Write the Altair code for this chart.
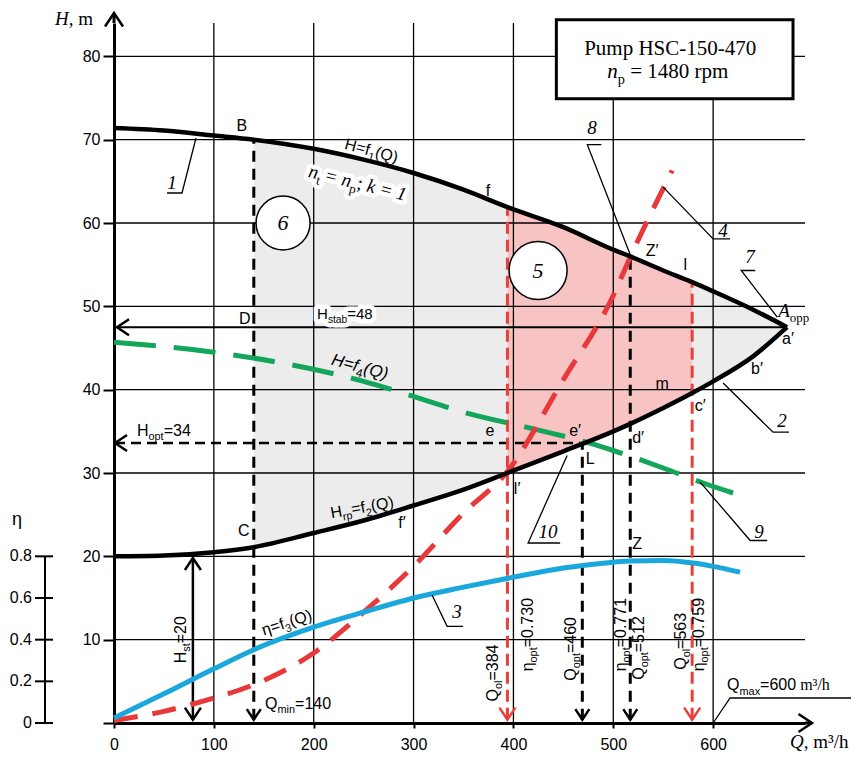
import altair as alt
import pandas as pd

# ------------------------------------------------------------------ data
Q_GRID = [0, 50, 100, 140, 200, 250, 300, 350, 394, 450, 500, 517, 550, 579, 600, 640, 674]
H_PUMP = [71.4, 71.1, 70.5, 70.0, 68.9, 67.6, 66.0, 64.0, 61.9, 59.5, 56.8, 56.0, 54.3, 52.9, 51.8, 49.6, 47.5]   # 1: H=f1(Q)
H_NET = [20.0, 20.1, 20.5, 21.1, 22.8, 24.3, 26.1, 28.0, 30.0, 32.6, 35.0, 35.9, 37.8, 39.6, 41.0, 44.0, 47.5]    # 2: Hrp=f2(Q)

ETA_Q = [0, 50, 100, 140, 200, 250, 300, 350, 400, 450, 500, 517, 550, 580, 600, 627]
ETA = [0.024, 0.14, 0.26, 0.352, 0.46, 0.532, 0.60, 0.652, 0.70, 0.744, 0.772, 0.778, 0.78, 0.768, 0.752, 0.724]  # 3
ETA_TO_H = 25.0        # eta scale: 0.8 <-> 20 m
ETA_TICKS = [0, 0.2, 0.4, 0.6, 0.8]
ETA_TICK_LABELS = ["0", "0.2", "0.4", "0.6", "0.8"]

CURVE4_Q = [0, 50, 100, 140, 200, 250, 300, 350, 394, 450, 500, 517, 559]
CURVE4_H = [0.3, 1.4, 3.0, 4.6, 8.4, 13.3, 18.8, 25.2, 30.2, 41.2, 51.3, 55.9, 66.3]

F4_Q = [0, 100, 168, 250, 300, 350, 420, 473, 500, 550, 590, 620]
F4_H = [45.7, 44.5, 43.2, 41.0, 39.2, 37.3, 35.3, 33.7, 32.7, 30.6, 28.8, 27.6]

X_TICKS = [0, 100, 200, 300, 400, 500, 600]
Y_TICKS = [0, 10, 20, 30, 40, 50, 60, 70, 80]
GRID_Q = [100, 200, 300, 400, 500, 600]
GRID_H = [10, 20, 30, 40, 50, 60, 70, 80]
Q_END, H_END = 692, 84

# shaded zones between curves 1 and 2: (from Q, to Q, colour)
ZONES = [(140, 394, "#ececec"), (394, 579, "#f7c3c3"), (579, 674, "#ececec")]

H_STAB = 47.5
H_OPT = 33.6
# vertical dashed drop lines (Q, top H, colour)
DROPS = [(140, 70.0, "black"), (469, 33.6, "black"), (517, 56.0, "black"),
         (394, 61.9, "#e8403a"), (579, 52.9, "#e8403a")]
H_ST_Q = 79
DROP_END = 0.4

# chevrons: Q, H, direction (deg), half width px, colour
ARROWS = [(0, 85.2, 0, 9, "black"), (699, 0, 90, 9, "black"),
          (3, H_STAB, 270, 8, "black"), (1, H_OPT, 270, 8, "black"),
          (140, DROP_END, 180, 7, "black"), (469, DROP_END, 180, 7, "black"),
          (517, DROP_END, 180, 7, "black"), (394, DROP_END, 180, 8, "#e8403a"),
          (579, DROP_END, 180, 8, "#e8403a"), (H_ST_Q, 19.8, 0, 8, "black"),
          (H_ST_Q, DROP_END, 180, 8, "black")]

LEADERS = {
    "1": [(53.1, 63.6), (68.1, 63.6), (82.1, 70.2)],
    "2": [(610, 40.8), (660, 34.9), (676, 34.9)],
    "3": [(318.5, 15.35), (333.6, 11.6), (349.6, 11.6)],
    "4": [(550, 64.3), (600, 58.1), (617, 58.1)],
    "7": [(642.1, 54.3), (628.1, 54.3), (664.2, 48.7)],
    "8": [(488, 69.4), (474, 69.4), (517, 56.2)],
    "9": [(587, 28.9), (637.1, 21.9), (654.1, 21.9)],
    "10": [(453.8, 32.1), (414.7, 21.6), (446.8, 21.6)],
    "qmax": [(600, 0), (617, 3.0), (739, 3.0)],
}
NUMBERS = [("1", 58.1, 64.8), ("2", 669, 36.3), ("3", 343.6, 13.3), ("4", 610, 59.1),
           ("7", 637, 55.9), ("8", 478.8, 71.4), ("9", 646, 22.9), ("10", 434.7, 22.9)]
CIRCLES = [("5", 424.7, 54.3, 58), ("6", 169.3, 60.0, 54)]
BOX = (443, 680, 74.9, 84.4)

# text labels: Q, H, angle, anchor, base size, halo, parts
LABELS = [
    (128, 71.7, 0, "center", 16, False, [("B", "n")]),
    (374.6, 63.9, 0, "center", 16, False, [("f", "n")]),
    (131, 48.6, 0, "center", 16, False, [("D", "n")]),
    (130, 23.1, 0, "center", 16, False, [("C", "n")]),
    (376.6, 35.1, 0, "center", 16, False, [("e", "n")]),
    (461.8, 35.1, 0, "center", 16, False, [("e′", "n")]),
    (476.8, 31.8, 0, "center", 16, False, [("L", "n")]),
    (403.7, 28.2, 0, "center", 16, False, [("l′", "n")]),
    (288.5, 24.1, 0, "center", 16, False, [("f′", "n")]),
    (524.9, 34.3, 0, "center", 16, False, [("d′", "n")]),
    (549, 40.8, 0, "center", 16, False, [("m", "n")]),
    (587, 38.1, 0, "center", 16, False, [("c′", "n")]),
    (644, 42.6, 0, "center", 16, False, [("b′", "n")]),
    (675, 46.2, 0, "center", 16, False, [("a′", "n")]),
    (539, 56.7, 0, "center", 16, False, [("Z′", "n")]),
    (524, 21.6, 0, "center", 16, False, [("Z", "n")]),
    (572, 55.0, 0, "center", 16, False, [("l", "n")]),
    (258, 68.7, 15, "center", 16, False, [("H=f", "n"), ("1", "s"), ("(Q)", "n")]),
    (243.4, 64.9, 14, "center", 19, True, [("n", "i"), ("t", "rs"), (" = ", "r"), ("n", "i"), ("p", "rs"),
                                           ("; ", "r"), ("k", "i"), (" = 1", "i")]),
    (246.4, 42.8, 15, "center", 17, False, [("H=f", "ni"), ("4", "s"), ("(Q)", "ni")]),
    (248.4, 25.9, 350, "center", 16, False, [("H", "n"), ("rp", "s"), ("=f", "n"), ("2", "s"), ("(Q)", "n")]),
    (173, 12.1, 342, "center", 16, False, [("η=f", "n"), ("3", "s"), ("(Q)", "n")]),
    (203.4, 49.1, 0, "left", 15, True, [("H", "n"), ("stab", "s"), ("=48", "n")]),
    (23, 35.1, 0, "left", 16, False, [("H", "n"), ("opt", "s"), ("=34", "n")]),
    (151.3, 2.4, 0, "left", 16, False, [("Q", "n"), ("min", "s"), ("=140", "n")]),
    (614, 4.6, 0, "left", 16, False, [("Q", "n"), ("max", "s"), ("=600", "n"), (" m³/h", "r")]),
    (665.1, 49.5, 0, "left", 19, False, [("A", "i"), ("opp", "rs")]),
    (-59.1, 84.6, 0, "left", 19, False, [("H", "i"), (", m", "r")]),
    (677, -2.2, 0, "left", 19, False, [("Q", "i"), (", m³/h", "r")]),
    (-97.2, 24.5, 0, "center", 18, False, [("η", "n")]),
    (378.6, 6.0, 270, "center", 16, False, [("Q", "n"), ("ol", "s"), ("=384", "n")]),
    (413.7, 10.6, 270, "center", 16, False, [("η", "n"), ("opt", "s"), ("=0.730", "n")]),
    (456.8, 8.9, 270, "center", 16, False, [("Q", "n"), ("opt", "s"), ("=460", "n")]),
    (506.9, 10.6, 270, "center", 16, False, [("η", "n"), ("opt", "s"), ("=0.771", "n")]),
    (524.9, 9.0, 270, "center", 16, False, [("Q", "n"), ("opt", "s"), ("=512", "n")]),
    (567.0, 9.8, 270, "center", 16, False, [("Q", "n"), ("ol", "s"), ("=563", "n")]),
    (585.0, 10.6, 270, "center", 16, False, [("η", "n"), ("opt", "s"), ("=0.759", "n")]),
    (66.1, 10.0, 270, "center", 16, False, [("H", "n"), ("st", "s"), ("=20", "n")]),
    (557, 81.1, 0, "center", 21, False, [("Pump HSC-150-470", "r")]),
    (555, 78.3, 0, "center", 21, False, [("n", "i"), ("p", "rs"), (" = 1480 rpm", "r")]),
]
ETA_AXIS_Q = -69.1

# ------------------------------------------------------------------ styles
SANS = "Liberation Sans"
SERIF = "Liberation Serif"
W_SANS = {'A': .667, 'B': .667, 'C': .722, 'D': .722, 'H': .722, 'L': .556, 'Q': .778, 'Z': .611,
          'a': .556, 'b': .556, 'c': .5, 'd': .556, 'e': .556, 'f': .278, 'h': .556, 'i': .222,
          'k': .5, 'l': .222, 'm': .833, 'n': .556, 'o': .556, 'p': .556, 'r': .333, 's': .5,
          't': .278, 'x': .5, '=': .584, '.': .278, ',': .278, ' ': .278, '(': .333, ')': .333,
          ';': .278, 'η': .556, '′': .19, '/': .278, '³': .333}
W_SERIF = {'P': .556, 'H': .722, 'S': .556, 'C': .667, '-': .333, 'A': .611, 'Q': .722,
           'u': .5, 'm': .778, 'p': .5, 'n': .5, 'r': .333, 'o': .5, 'k': .444, 't': .278, 'h': .5,
           ' ': .25, '=': .6, ',': .25, ';': .278, '/': .278, '³': .3}


def text_w(s, size, font):
    tbl = W_SERIF if font == SERIF else W_SANS
    dflt = 0.5 if font == SERIF else 0.556
    return sum(tbl.get(c, dflt) for c in s) * size


def kind_style(kind, b):
    return {
        "n": (SANS, b, "normal", 0),
        "ni": (SANS, b, "italic", 0),
        "s": (SANS, 0.68 * b, "normal", 0.27 * b),
        "i": (SERIF, b, "italic", 0),
        "r": (SERIF, b, "normal", 0),
        "rs": (SERIF, 0.68 * b, "normal", 0.27 * b),
    }[kind]


XS = alt.Scale(domain=[0, Q_END], nice=False, zero=False)
YS = alt.Scale(domain=[0, H_END], nice=False, zero=False)
XAXIS = alt.Axis(values=X_TICKS, grid=False, domainWidth=3, domainColor="black", tickColor="black",
                 tickWidth=2, tickSize=5, labelFont=SANS, labelFontSize=16, labelColor="black",
                 labelPadding=8, labelFlush=False, labelOverlap=False, title=None)
YAXIS = alt.Axis(values=Y_TICKS, grid=False, domainWidth=3, domainColor="black", tickColor="black",
                 tickWidth=2, tickSize=11, labelFont=SANS, labelFontSize=16, labelColor="black",
                 labelPadding=3, labelFlush=False, labelOverlap=False, title=None,
                 labelExpr="datum.value == 0 ? '' : datum.label")


def X(f="Q"):
    return alt.X(f"{f}:Q", scale=XS, axis=XAXIS)


def Y(f="H"):
    return alt.Y(f"{f}:Q", scale=YS, axis=YAXIS)


layers = []

# shaded zones
curves = pd.DataFrame({"Q": Q_GRID, "up": H_PUMP, "lo": H_NET})
for q0, q1, col in ZONES:
    sub = curves[(curves.Q >= q0) & (curves.Q <= q1)]
    layers.append(alt.Chart(sub).mark_area(color=col, opacity=1, interpolate="monotone")
                  .encode(x=X(), y=Y("up"), y2="lo:Q"))

# grid
layers.append(alt.Chart(pd.DataFrame({"Q": GRID_Q, "a": 0, "b": H_END})).mark_rule(color="black", strokeWidth=1.3)
              .encode(x=X(), y=Y("a"), y2="b:Q"))
layers.append(alt.Chart(pd.DataFrame({"H": GRID_H, "a": 0, "b": Q_END})).mark_rule(color="black", strokeWidth=1.3)
              .encode(y=Y(), x=X("a"), x2="b:Q"))

# H_stab solid line, H_opt dashed line, H_st double arrow
layers.append(alt.Chart(pd.DataFrame({"a": [3], "b": [674], "H": [H_STAB]})).mark_rule(color="black", strokeWidth=2)
              .encode(x=X("a"), x2="b:Q", y=Y()))
layers.append(alt.Chart(pd.DataFrame({"a": [1], "b": [469], "H": [H_OPT]}))
              .mark_rule(color="black", strokeWidth=2.5, strokeDash=[10, 6])
              .encode(x=X("a"), x2="b:Q", y=Y()))
layers.append(alt.Chart(pd.DataFrame({"Q": [H_ST_Q], "a": [DROP_END], "b": [19.8]}))
              .mark_rule(color="black", strokeWidth=2.5).encode(x=X(), y=Y("a"), y2="b:Q"))

# drop lines
for q, top, col in DROPS:
    dash = [11, 7] if col == "black" else [12, 6]
    layers.append(alt.Chart(pd.DataFrame({"Q": [q], "a": [DROP_END], "b": [top]}))
                  .mark_rule(color=col, strokeWidth=3, strokeDash=dash)
                  .encode(x=X(), y=Y("a"), y2="b:Q"))

# curves 9 (green), 4 (red), 3 (blue)
layers.append(alt.Chart(pd.DataFrame({"Q": F4_Q, "H": F4_H}))
              .mark_line(color="#13a65a", strokeWidth=5, strokeDash=[42, 18], interpolate="monotone")
              .encode(x=X(), y=Y()))
layers.append(alt.Chart(pd.DataFrame({"Q": CURVE4_Q, "H": CURVE4_H}))
              .mark_line(color="#e8393a", strokeWidth=5, strokeDash=[24, 15], interpolate="monotone")
              .encode(x=X(), y=Y()))
eta_df = pd.DataFrame({"Q": ETA_Q, "eta": ETA})
eta_df["H"] = eta_df["eta"] * ETA_TO_H
layers.append(alt.Chart(eta_df).mark_line(color="#1aa8dc", strokeWidth=5, interpolate="monotone")
              .encode(x=X(), y=Y()))

# main curves
layers.append(alt.Chart(pd.DataFrame({"Q": Q_GRID, "H": H_PUMP}))
              .mark_line(color="black", strokeWidth=4.5, interpolate="monotone")
              .encode(x=X(), y=Y()))
layers.append(alt.Chart(pd.DataFrame({"Q": Q_GRID, "H": H_NET}))
              .mark_line(color="black", strokeWidth=4.5, interpolate="monotone")
              .encode(x=X(), y=Y()))

# axis extensions
layers.append(alt.Chart(pd.DataFrame({"Q": [0], "a": [H_END], "b": [85.2]})).mark_rule(color="black", strokeWidth=3)
              .encode(x=X(), y=Y("a"), y2="b:Q"))
layers.append(alt.Chart(pd.DataFrame({"H": [0], "a": [Q_END], "b": [699]})).mark_rule(color="black", strokeWidth=3)
              .encode(y=Y(), x=X("a"), x2="b:Q"))

# eta axis
eta_ticks = pd.DataFrame({"eta": ETA_TICKS, "lab": ETA_TICK_LABELS})
eta_ticks["H"] = eta_ticks["eta"] * ETA_TO_H
eta_ticks["a"] = ETA_AXIS_Q - 10
eta_ticks["b"] = ETA_AXIS_Q + 8
eta_ticks["lq"] = ETA_AXIS_Q - 13
layers.append(alt.Chart(pd.DataFrame({"Q": [ETA_AXIS_Q], "a": [0], "b": [max(ETA_TICKS) * ETA_TO_H]}))
              .mark_rule(color="black", strokeWidth=2).encode(x=X(), y=Y("a"), y2="b:Q"))
layers.append(alt.Chart(eta_ticks).mark_rule(color="black", strokeWidth=2)
              .encode(y=Y(), x=X("a"), x2="b:Q"))
layers.append(alt.Chart(eta_ticks).mark_text(align="right", baseline="middle", font=SANS, fontSize=16,
                                             color="black")
              .encode(x=X("lq"), y=Y(), text="lab:N"))

# circles 5, 6
circ = pd.DataFrame([{"lab": c[0], "Q": c[1], "H": c[2], "sz": c[3] ** 2} for c in CIRCLES])
layers.append(alt.Chart(circ).mark_point(shape="circle", filled=True, fill="white", stroke="black",
                                         strokeWidth=1.5, opacity=1)
              .encode(x=X(), y=Y(), size=alt.Size("sz:Q", scale=None, legend=None)))
layers.append(alt.Chart(circ).mark_text(font=SERIF, fontStyle="italic", fontSize=22, color="black",
                                        baseline="middle", align="center")
              .encode(x=X(), y=Y(), text="lab:N"))

# pump box
layers.append(alt.Chart(pd.DataFrame({"a": [BOX[0]], "b": [BOX[1]], "c": [BOX[2]], "d": [BOX[3]]}))
              .mark_rect(fill="white", stroke="black", strokeWidth=3)
              .encode(x=X("a"), x2="b:Q", y=Y("c"), y2="d:Q"))

# leader lines
lead_rows = []
for key, pts in LEADERS.items():
    for i, (q, h) in enumerate(pts):
        lead_rows.append({"id": key, "o": i, "Q": q, "H": h})
layers.append(alt.Chart(pd.DataFrame(lead_rows)).mark_line(color="black", strokeWidth=1.3)
              .encode(x=X(), y=Y(), detail="id:N", order="o:Q"))
num_df = pd.DataFrame([{"lab": n[0], "Q": n[1], "H": n[2]} for n in NUMBERS])
layers.append(alt.Chart(num_df).mark_text(font=SERIF, fontStyle="italic", fontSize=19, color="black",
                                          baseline="middle", align="center")
              .encode(x=X(), y=Y(), text="lab:N"))

# arrow heads
arr = pd.DataFrame([{"Q": a[0], "H": a[1], "ang": a[2], "sz": 4 * a[3] ** 2, "col": a[4]} for a in ARROWS])
layers.append(alt.Chart(arr).mark_point(shape="M-1,1.5L0,0L1,1.5", filled=False, strokeWidth=2.5, opacity=1,
                                        strokeJoin="miter")
              .encode(x=X(), y=Y(), angle=alt.Angle("ang:Q", scale=None),
                      size=alt.Size("sz:Q", scale=None, legend=None),
                      color=alt.Color("col:N", scale=None, legend=None)))

# rich text labels (Vega trims spaces, so leading blanks become offsets)
halo_layers, text_layers = [], []
for q, h, ang, anchor, base, halo, parts in LABELS:
    styles = [kind_style(k, base) for _, k in parts]
    widths = [text_w(t, st[1], st[0]) for (t, _), st in zip(parts, styles)]
    total = sum(widths)
    off = -total / 2 if anchor == "center" else (-total if anchor == "right" else 0.0)
    for (t, _), st, w in zip(parts, styles, widths):
        font, size, style, drop = st
        lead = t[:len(t) - len(t.lstrip())]
        df = pd.DataFrame({"Q": [q], "H": [h], "t": [t.strip()]})
        props = dict(align="left", baseline="alphabetic", dx=off + text_w(lead, size, font),
                     dy=0.35 * base + drop, angle=ang, font=font, fontSize=size, fontStyle=style)
        if halo:
            halo_layers.append(alt.Chart(df).mark_text(color="white", stroke="white", strokeWidth=9,
                                                       strokeJoin="round", **props)
                               .encode(x=X(), y=Y(), text="t:N"))
        text_layers.append(alt.Chart(df).mark_text(color="black", **props)
                           .encode(x=X(), y=Y(), text="t:N"))
        off += w
layers = layers + halo_layers + text_layers

chart = alt.layer(*layers).properties(
    width=691, height=700,
    padding={"left": 106, "top": 15, "right": 46, "bottom": 28},
    autosize=alt.AutoSizeParams(type="none"),
    background="white",
).configure_view(stroke=None)

chart.save("out.html", embed_options={"renderer": "svg", "actions": False})
